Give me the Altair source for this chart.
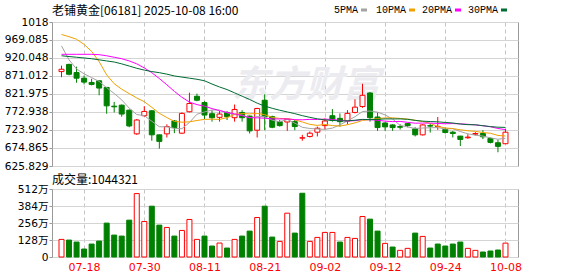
import altair as alt
import pandas as pd

# ---------------- data ----------------
dates = ["07-15", "07-16", "07-17", "07-18", "07-21", "07-22", "07-23", "07-24", "07-25", "07-28",
         "07-29", "07-30", "07-31", "08-01", "08-04", "08-05", "08-06", "08-07", "08-08", "08-11",
         "08-12", "08-13", "08-14", "08-15", "08-18", "08-19", "08-20", "08-21", "08-22", "08-25",
         "08-26", "08-27", "08-28", "08-29", "09-01", "09-02", "09-03", "09-04", "09-05", "09-08",
         "09-09", "09-10", "09-11", "09-12", "09-15", "09-16", "09-17", "09-18", "09-19", "09-22",
         "09-23", "09-24", "09-25", "09-26", "09-29", "09-30", "10-02", "10-03", "10-06", "10-08"]

opens = [882.9, 902.5, 880.3, 865.0, 853.4, 857.9, 839.9, 788.8, 791.5, 777.9,
         713.4, 762.8, 776.2, 710.7, 713.4, 748.4, 715.2, 773.6, 815.7, 798.7,
         768.2, 758.3, 771.7, 757.4, 771.7, 761.9, 723.3, 805.0, 760.1, 746.6,
         745.7, 746.6, 701.8, 706.3, 717.9, 735.8, 762.8, 755.6, 748.4, 771.7,
         787.9, 824.7, 759.2, 743.0, 737.7, 733.2, 741.2, 726.9, 710.7, 735.8,
         733.0, 725.1, 717.9, 707.2, 702.7, 712.5, 714.3, 700.9, 689.2, 686.5]
highs = [899.1, 904.3, 896.4, 872.2, 863.2, 858.5, 840.5, 800.4, 793.3, 779.8,
         753.8, 788.8, 777.9, 711.5, 739.4, 751.1, 771.8, 825.6, 822.9, 802.2,
         777.9, 775.3, 775.3, 793.3, 777.9, 762.8, 784.3, 821.1, 762.8, 751.1,
         754.7, 751.1, 710.7, 719.7, 733.2, 755.6, 780.7, 769.1, 777.9, 807.7,
         849.8, 827.4, 771.8, 744.8, 739.4, 739.4, 743.0, 731.4, 739.4, 741.2,
         759.2, 730.5, 721.5, 708.0, 712.5, 717.9, 723.3, 703.5, 697.3, 726.9]
lows = [867.7, 872.9, 852.5, 848.1, 845.3, 818.4, 768.2, 771.7, 760.1, 731.4,
        710.7, 760.1, 694.6, 673.1, 703.5, 715.2, 713.4, 771.8, 802.2, 753.8,
        746.6, 746.6, 751.1, 746.6, 746.6, 714.3, 703.5, 723.3, 728.7, 733.2,
        721.5, 723.3, 694.6, 703.5, 706.3, 726.0, 746.6, 733.2, 739.4, 769.1,
        784.3, 746.6, 721.5, 721.5, 721.5, 725.1, 731.4, 706.3, 708.9, 716.9,
        724.2, 714.3, 703.5, 680.3, 699.9, 708.9, 699.1, 687.4, 663.2, 685.6]
closes = [889.3, 875.6, 865.0, 854.3, 848.0, 838.1, 789.7, 787.0, 767.3, 734.9,
          751.1, 774.4, 710.7, 692.8, 733.2, 730.5, 769.1, 796.0, 805.0, 764.6,
          757.4, 767.3, 760.1, 779.8, 757.4, 721.5, 782.5, 760.1, 731.4, 735.8,
          752.9, 733.2, 702.7, 715.2, 728.7, 748.4, 750.2, 746.6, 769.1, 786.1,
          818.4, 757.4, 730.5, 732.3, 730.5, 731.4, 735.8, 710.7, 737.7, 734.5,
          733.8, 717.0, 714.3, 698.2, 704.5, 714.3, 705.4, 690.1, 679.3, 717.9]

# volume in 万 (10k shares); last one is the 1044321 shown in the caption
vol_wan = [132.5, 127.5, 112.5, 60, 97.5, 120, 255, 165, 157.5, 277.5,
           477.5, 267.5, 382.5, 240, 222.5, 157.5, 200, 282.5, 132.5, 157.5,
           82.5, 105, 67.5, 132.5, 157.5, 195, 297.5, 382.5, 150, 117.5,
           330, 180, 480, 117.5, 147.5, 185, 185, 112.5, 147.5, 140,
           305, 285, 195, 102.5, 75, 50, 65, 180, 155, 67.5,
           97.5, 82.5, 97.5, 112.5, 65, 50, 37.5, 45, 52.5, 104.4321]
# 1 = red (hollow) volume bar, 0 = green
vol_up = [1, 0, 0, 0, 0, 0, 0, 0, 0, 0,
          1, 1, 0, 0, 1, 0, 1, 1, 1, 0,
          0, 1, 0, 1, 0, 0, 1, 0, 0, 1,
          1, 0, 0, 1, 1, 1, 1, 0, 1, 1,
          1, 0, 0, 1, 0, 1, 1, 0, 1, 0,
          0, 0, 0, 0, 1, 1, 0, 0, 0, 1]

ma5 = [953, 915, 890, 877, 866.4, 856.2, 839.0, 823.4, 806.0, 783.4,
       766.0, 762.9, 747.7, 732.8, 732.4, 728.3, 727.3, 744.3, 766.8, 773.0,
       778.4, 778.1, 770.9, 765.8, 764.4, 757.2, 760.3, 760.3, 750.6, 746.3,
       752.5, 742.7, 731.2, 728.0, 726.5, 725.6, 729.0, 737.8, 748.6, 760.1,
       774.1, 775.5, 772.3, 764.9, 753.8, 736.4, 732.1, 728.1, 729.2, 730.0,
       730.5, 726.7, 727.5, 719.6, 713.6, 709.7, 707.3, 702.5, 698.7, 701.4]
ma10 = [984, 978, 971, 957, 938, 910, 874, 850, 835, 823,
        811.1, 801.0, 785.6, 769.4, 757.9, 747.2, 745.1, 746.0, 749.8, 752.7,
        753.4, 752.7, 757.6, 766.3, 768.7, 767.8, 769.2, 765.6, 758.2, 755.3,
        754.9, 751.5, 745.7, 739.3, 736.4, 739.1, 735.9, 734.5, 738.3, 743.3,
        749.9, 752.3, 755.1, 756.8, 757.0, 755.3, 753.8, 750.2, 747.1, 741.9,
        733.5, 729.4, 727.8, 724.4, 721.8, 720.1, 717.0, 715.0, 709.1, 707.5]
ma20 = [930, 930, 930, 930, 930, 929, 926, 922, 918, 912,
        904, 893, 880, 864, 847, 829, 813, 800, 793, 788.8,
        782.2, 776.8, 771.6, 767.9, 763.3, 757.5, 757.1, 755.8, 754.0, 754.0,
        754.1, 752.1, 751.7, 752.8, 752.6, 753.5, 752.5, 750.0, 748.2, 749.3,
        752.4, 751.9, 750.4, 748.0, 746.7, 747.2, 744.8, 742.4, 742.7, 742.6,
        741.7, 740.9, 741.4, 740.6, 739.4, 737.7, 735.4, 732.6, 728.1, 724.7]
ma30 = [926, 924, 922, 920, 918, 915, 912, 909, 904, 898,
        892, 887, 883, 880, 876, 871, 868, 865, 862, 858,
        849, 841, 834, 825, 816, 807, 797, 789, 783, 777.7,
        773.1, 768.4, 763.0, 758.3, 754.3, 751.4, 750.0, 748.7, 748.8, 750.5,
        752.7, 752.1, 752.8, 754.1, 754.0, 754.1, 752.9, 750.1, 747.9, 746.9,
        746.1, 744.4, 742.9, 740.1, 738.4, 738.1, 735.6, 733.2, 731.5, 730.9]

ma_names = ["5PMA", "10PMA", "20PMA", "30PMA"]

tick_dates = ["07-18", "07-30", "08-11", "08-21", "09-02", "09-12", "09-24", "10-08"]
price_ticks = [625.829, 674.865, 723.902, 772.938, 821.975, 871.012, 920.048, 969.085, 1018]
price_labels = ["625.829", "674.865", "723.902", "772.938", "821.975", "871.012", "920.048", "969.085", "1018"]
vol_ticks_wan = [0, 128, 256, 384, 512]
vol_labels = ["0", "128万", "256万", "384万", "512万"]

title_text = "老铺黄金[06181] 2025-10-08 16:00"
vol_title = "成交量:1044321"
watermark = "东方财富"

# ---------------- styling ----------------
ma_colors = ["#a3a3a3", "#f0a000", "#ff00ff", "#006b33"]
legend_label_x = [282, 324, 370, 416]      # px from plot left
legend_swatch_x = [309, 357, 403, 449]
RED = "#ff0000"
GREEN = "#008000"
GRID = "#d4d4d4"
LABEL_FONT = "DejaVu Sans, Noto Sans CJK SC"

# ---------------- tables ----------------
idx = list(range(1, len(dates) + 1))
df = pd.DataFrame({"i": idx, "date": dates, "open": opens, "high": highs,
                   "low": lows, "close": closes,
                   "vol": [v * 10000 for v in vol_wan], "vup": vol_up})
ma_df = pd.DataFrame({
    "i": idx * 4,
    "name": [n for n in ma_names for _ in idx],
    "value": ma5 + ma10 + ma20 + ma30,
})

tick_idx = [dates.index(d) + 1 for d in tick_dates]
x_label_expr = " : ".join(f"datum.value == {k} ? '{d}'" for k, d in zip(tick_idx, tick_dates)) + " : ''"
price_label_expr = " : ".join(f"abs(datum.value - {v}) < 0.01 ? '{s}'" for v, s in zip(price_ticks, price_labels)) + " : ''"
vol_ticks = [v * 10000 for v in vol_ticks_wan]
vol_label_expr = " : ".join(f"datum.value == {v} ? '{s}'" for v, s in zip(vol_ticks, vol_labels)) + " : ''"

xs = alt.Scale(domain=[0.4, 61], nice=False, zero=False)
ys = alt.Scale(domain=[625.829, 1018], nice=False, zero=False)

top_x_axis = alt.Axis(values=tick_idx, tickCount=len(tick_idx), labels=False, ticks=False,
                      domain=False, grid=True, gridDash=[4, 3], gridColor="#c4c4c4", title=None)
bottom_x_axis = alt.Axis(values=tick_idx, tickCount=len(tick_idx), labelExpr=x_label_expr,
                         labelColor=RED, labelFont="DejaVu Sans", labelFontSize=11, ticks=False,
                         domain=False, grid=True, gridDash=[4, 3], gridColor="#c4c4c4",
                         title=None, labelPadding=4, labelFlush=False, labelOverlap=False)
price_axis = alt.Axis(values=price_ticks, tickCount=len(price_ticks), labelExpr=price_label_expr,
                      title=None, grid=True, gridColor=GRID, tickSize=3, tickColor="#999999",
                      domain=False, labelPadding=1, labelFont=LABEL_FONT,
                      labelFontSize=10.6, labelColor="#000000", labelOverlap=False)
vol_axis = alt.Axis(values=vol_ticks, tickCount=len(vol_ticks), labelExpr=vol_label_expr,
                    title=None, grid=True, gridColor=GRID, tickSize=3, tickColor="#999999",
                    domain=False, labelPadding=1, labelFont=LABEL_FONT,
                    labelFontSize=10.6, labelColor="#000000", labelOverlap=False)

up_cond = "datum.close >= datum.open"

wm = alt.Chart(pd.DataFrame({"t": [watermark]})).mark_text(
    font="Noto Sans CJK SC", fontSize=37, fontWeight="bold", fontStyle="italic",
    color="#ebebf0").encode(text="t:N", x=alt.value(254), y=alt.value(64))

base = alt.Chart(df)
wick = base.mark_rule(strokeWidth=1).encode(
    x=alt.X("i:Q", scale=xs, axis=top_x_axis),
    y=alt.Y("low:Q", scale=ys, axis=price_axis),
    y2="high:Q",
    color=alt.condition(up_cond, alt.value(RED), alt.value(GREEN)),
)
body = base.mark_bar(size=5, strokeWidth=1).encode(
    x=alt.X("i:Q", scale=xs),
    y=alt.Y("open:Q", scale=ys),
    y2="close:Q",
    fill=alt.condition(up_cond, alt.value("#ffffff"), alt.value(GREEN)),
    stroke=alt.condition(up_cond, alt.value(RED), alt.value(GREEN)),
)
lines = alt.Chart(ma_df).mark_line(strokeWidth=1).encode(
    x=alt.X("i:Q", scale=xs),
    y=alt.Y("value:Q", scale=ys),
    color=alt.Color("name:N", scale=alt.Scale(domain=ma_names, range=ma_colors), legend=None),
)

# chart heading, drawn as text above the plot
heading = alt.Chart(pd.DataFrame({"t": [title_text]})).mark_text(
    font="Noto Sans CJK SC", fontSize=12, align="left", baseline="middle",
    color="#000000").encode(text="t:N", x=alt.value(0), y=alt.value(-11))

# legend: label followed by a colour swatch, as in the original
legend_layers = []
for name, col, lx, sx in zip(ma_names, ma_colors, legend_label_x, legend_swatch_x):
    ld = pd.DataFrame({"t": [name]})
    legend_layers.append(
        alt.Chart(ld).mark_text(font="Liberation Mono", fontSize=10, align="left",
                                baseline="middle", color="#000000").encode(
            text="t:N", x=alt.value(lx), y=alt.value(-12.5))
    )
    legend_layers.append(
        alt.Chart(ld).mark_rule(strokeWidth=3, color=col).encode(
            x=alt.value(sx), x2=alt.value(sx + 6), y=alt.value(-12))
    )

top = alt.layer(wm, wick, body, lines, heading, *legend_layers).properties(
    width=466, height=144,
)

vol = base.mark_bar(size=5, strokeWidth=1).encode(
    x=alt.X("i:Q", scale=xs, axis=bottom_x_axis),
    y=alt.Y("vol:Q", scale=alt.Scale(domain=[0, 5120000], nice=False), axis=vol_axis),
    fill=alt.condition("datum.vup == 1", alt.value("#ffffff"), alt.value(GREEN)),
    stroke=alt.condition("datum.vup == 1", alt.value(RED), alt.value(GREEN)),
).properties(
    width=466, height=68,
    title=alt.TitleParams(vol_title, anchor="start", frame="group",
                          font="Noto Sans CJK SC", fontSize=12, fontWeight="normal",
                          color="#000000", offset=-3),
)

chart = alt.vconcat(top, vol, spacing=0).properties(
    padding={"left": 3, "top": 4, "right": 5, "bottom": 2}
).configure_view(stroke="#999999", strokeWidth=1)

chart.save("out.html", embed_options={"renderer": "svg", "actions": False})
